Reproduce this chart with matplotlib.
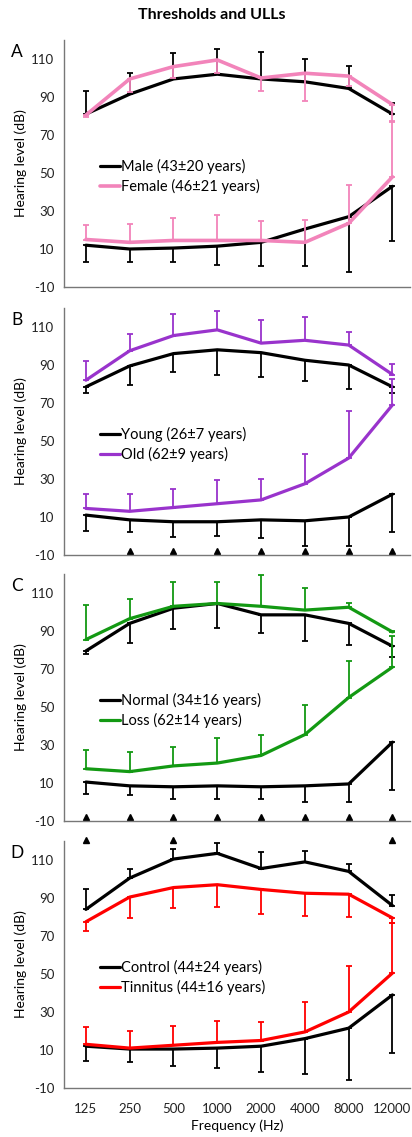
import matplotlib
matplotlib.use("Agg")
import matplotlib.pyplot as plt
import numpy as np

plt.rcParams['font.family'] = ['Lato', 'DejaVu Sans']
plt.rcParams['axes.unicode_minus'] = False

freqs = ['125', '250', '500', '1000', '2000', '4000', '8000', '12000']

# A: sex
male_thr = [12, 10, 10.5, 11.5, 13.5, 20.5, 27, 43]
male_thr_sd = [9, 7, 7.5, 10, 12.5, 19.5, 29, 29]
female_thr = [15, 13.5, 14.5, 14.5, 14.5, 13.5, 23.5, 48]
female_thr_sd = [7.5, 9.5, 12, 13.5, 10, 12, 20, 29]
male_ull = [81, 91.5, 99.5, 102, 99.5, 98, 94.5, 81]
male_ull_sd = [12, 11, 13.5, 13.5, 14, 12, 12, 6]
female_ull = [80.5, 99.5, 106, 109.5, 100, 102.5, 101, 86]
female_ull_sd = [1, 7, 6, 7, 7, 14.5, 5, 8.5]

# B: age
young_thr = [11, 8.5, 7.5, 7.5, 8.5, 8, 10, 22]
young_thr_sd = [8.5, 6.5, 8, 7.5, 9.5, 13.5, 15.5, 20]
old_thr = [14.5, 13, 15, 17, 19, 27.5, 41, 69]
old_thr_sd = [7.5, 9, 9.5, 12.5, 11, 15.5, 25, 13.5]
young_ull = [78.5, 89.5, 96, 98, 96.5, 92.5, 90, 78.5]
young_ull_sd = [3, 10, 9.5, 13, 13, 11, 12.5, 3]
old_ull = [82, 97.5, 105.5, 108.5, 101.5, 103, 100.5, 85]
old_ull_sd = [10, 9, 11.5, 10, 12, 12.5, 7, 5.5]
sig_B = [1, 2, 3, 4, 5, 6, 7]

# C: hearing loss
normal_thr = [10.5, 8.5, 8, 8.5, 8, 8.5, 9.5, 31.5]
normal_thr_sd = [6.5, 5, 6.5, 7, 6.5, 8.5, 9.5, 25]
loss_thr = [17.5, 16, 19, 20.5, 24.5, 35.5, 55, 71]
loss_thr_sd = [10, 10.5, 10, 13, 11, 15.5, 19, 16.5]
normal_ull = [79.5, 94, 102, 104.5, 98.5, 98.5, 94, 82]
normal_ull_sd = [1.5, 10.5, 11, 13, 9.5, 14, 11.5, 5.5]
loss_ull = [85.5, 96.5, 103, 104.5, 103, 101, 102.5, 89.5]
loss_ull_sd = [18, 10.5, 13, 11.5, 16.5, 11.5, 2.5, 0.5]
sig_C = [0, 1, 2, 3, 4, 5, 6, 7]

# D: tinnitus
control_thr = [12, 10.5, 10.5, 11, 12, 16, 21.5, 39]
control_thr_sd = [8, 7, 9, 10.5, 13.5, 18.5, 27.5, 30.5]
tinnitus_thr = [13, 11, 12.5, 14, 15, 19.5, 30, 50.5]
tinnitus_thr_sd = [9, 9, 10, 11.5, 9.5, 16, 24, 26.5]
control_ull = [84, 100.5, 110.5, 113.5, 105.5, 109, 104, 86]
control_ull_sd = [10.5, 5, 5.5, 5.5, 8.5, 5.5, 4, 5.5]
tinnitus_ull = [77.5, 90.5, 95.5, 97, 94.5, 92.5, 92, 79.5]
tinnitus_ull_sd = [5, 11, 11, 11.5, 13, 12, 12, 2.5]
sig_D = [0, 2, 7]

x = np.arange(len(freqs))


def series(ax, y, sd, up, color, label=None, lw=2.3):
    sd = np.asarray(sd)
    zero = np.zeros_like(sd)
    yerr = [zero, sd] if up else [sd, zero]
    ax.errorbar(x, y, yerr=yerr, fmt='none', ecolor=color, elinewidth=1.3,
                capsize=2.5, capthick=1.3)
    ax.plot(x, y, color=color, lw=lw, label=label, solid_capstyle='round')


def style(ax, letter):
    ax.set_xlim(-0.5, 7.4)
    ax.set_ylim(-10, 120)
    ax.set_yticks(np.arange(-10, 111, 20))
    ax.set_xticks(x)
    ax.set_xticklabels([])
    ax.tick_params(length=0, labelsize=9.5, pad=7, colors='#222222')
    for s in ['top', 'right']:
        ax.spines[s].set_visible(False)
    for s in ['left', 'bottom']:
        ax.spines[s].set_color('#777777')
        ax.spines[s].set_linewidth(1)
    ax.set_ylabel('Hearing level (dB)', fontsize=10, labelpad=3)
    ax.text(-0.135, 0.95, letter, transform=ax.transAxes, fontsize=12.5,
            ha='center', va='center')
    ax.legend(loc='center left', bbox_to_anchor=(0.104, 0.447), frameon=False,
              fontsize=10.5, handlelength=1.35, handletextpad=0.12,
              labelspacing=0.35, borderpad=0, borderaxespad=0)


fig = plt.figure(figsize=(4.12, 11.37), dpi=100)
W, H = 412.0, 1137.0
tops = [40, 308, 574, 841]
axes = [fig.add_axes([64 / W, 1 - (t + 247) / H, 346 / W, 247 / H]) for t in tops]

pink = '#F284BA'
purple = '#9933CC'
green = '#139913'
red = '#FF0000'

ax = axes[0]
series(ax, male_thr, male_thr_sd, False, 'black', 'Male (43\u00b120 years)')
series(ax, male_ull, male_ull_sd, True, 'black')
series(ax, female_thr, female_thr_sd, True, pink, 'Female (46\u00b121 years)', lw=2.6)
series(ax, female_ull, female_ull_sd, False, pink, lw=2.6)
style(ax, 'A')

ax = axes[1]
series(ax, young_thr, young_thr_sd, False, 'black', 'Young (26\u00b17 years)')
series(ax, young_ull, young_ull_sd, False, 'black')
series(ax, old_thr, old_thr_sd, True, purple, 'Old (62\u00b19 years)')
series(ax, old_ull, old_ull_sd, True, purple)
ax.plot(x[sig_B], [-8] * len(sig_B), ls='none', marker='^', color='black', ms=4)
style(ax, 'B')

ax = axes[2]
series(ax, normal_thr, normal_thr_sd, False, 'black', 'Normal (34\u00b116 years)')
series(ax, normal_ull, normal_ull_sd, False, 'black')
series(ax, loss_thr, loss_thr_sd, True, green, 'Loss (62\u00b114 years)')
series(ax, loss_ull, loss_ull_sd, True, green)
ax.plot(x[sig_C], [-8] * len(sig_C), ls='none', marker='^', color='black', ms=4)
style(ax, 'C')

ax = axes[3]
series(ax, control_thr, control_thr_sd, False, 'black', 'Control (44\u00b124 years)')
series(ax, control_ull, control_ull_sd, True, 'black')
series(ax, tinnitus_thr, tinnitus_thr_sd, True, red, 'Tinnitus (44\u00b116 years)')
series(ax, tinnitus_ull, tinnitus_ull_sd, False, red)
ax.plot(x[sig_D], [120.5] * len(sig_D), ls='none', marker='^', color='black',
        ms=4, clip_on=False)
style(ax, 'D')
ax.set_xticklabels(freqs)
ax.tick_params(axis='x', pad=11)
ax.set_xlabel('Frequency (Hz)', fontsize=10, labelpad=3)

fig.text(0.515, 1 - 15 / H, 'Thresholds and ULLs', ha='center', va='center',
         fontsize=11.5, fontweight='bold')

fig.savefig('out.png', dpi=100)
